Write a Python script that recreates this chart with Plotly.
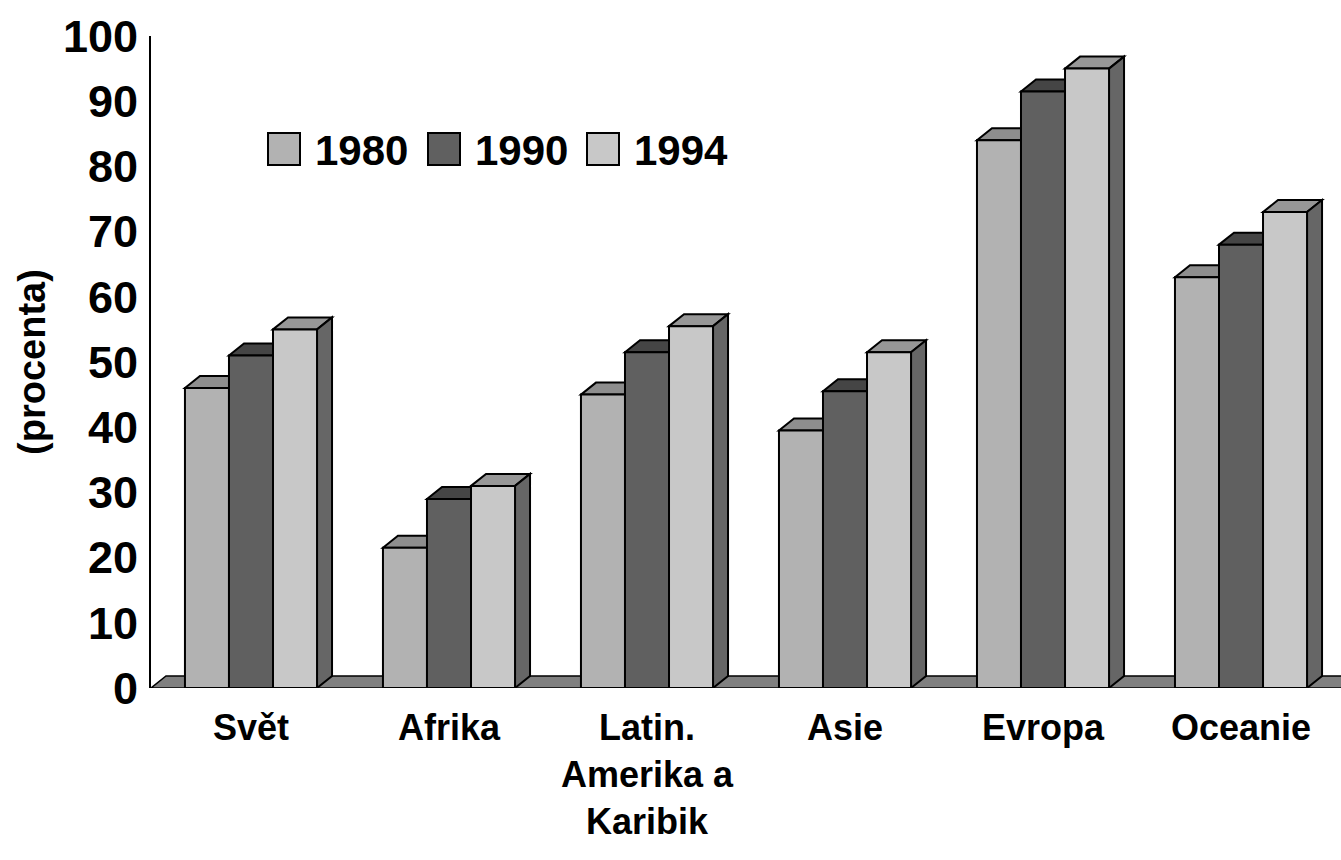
import plotly.graph_objects as go

# ---------------- data ----------------
categories = ["Svět", "Afrika", "Latin.<br>Amerika a<br>Karibik", "Asie", "Evropa", "Oceanie"]
series_names = ["1980", "1990", "1994"]
values_1980 = [46, 21.5, 45, 39.5, 84, 63]
values_1990 = [51, 29, 51.5, 45.5, 91.5, 68]
values_1994 = [55, 31, 55.5, 51.5, 95, 73]
y_ticks = [0, 10, 20, 30, 40, 50, 60, 70, 80, 90, 100]
y_title = "(procenta)"

series_values = [values_1980, values_1990, values_1994]

# ---------------- styles ----------------
front_colors = ["#b2b2b2", "#606060", "#c8c8c8"]
top_colors = ["#8e8e8e", "#454545", "#979797"]
side_color = "#666666"
floor_color = "#808080"
FONT = "Liberation Sans, Arial, sans-serif"

W, H = 1341, 860
ML, MR, MT, MB = 151, 0, 36, 172
XMIN, XMAX = -0.505, 5.505
YMIN, YMAX = 0, 100
px_x = (W - ML - MR) / (XMAX - XMIN)
px_y = (H - MT - MB) / (YMAX - YMIN)
DX = 15 / px_x      # depth offset (3D look) in data units
DY = 12 / px_y
BARGAP = 0.333
NS = len(series_names)
BW = (1 - BARGAP) / NS

fig = go.Figure()
xs = list(range(len(categories)))
for i, (name, vals) in enumerate(zip(series_names, series_values)):
    fig.add_trace(go.Bar(
        x=xs, y=vals, name=name,
        marker=dict(color=front_colors[i], line=dict(color="black", width=2)),
        showlegend=False,
    ))

shapes = []
# floor
shapes.append(dict(
    type="path", xref="x", yref="y", layer="below",
    path=f"M {XMIN},{YMIN} L {XMAX},{YMIN} L {XMAX+DX},{YMIN+DY} L {XMIN+DX},{YMIN+DY} Z",
    fillcolor=floor_color, line=dict(color="black", width=1.5),
))
# top & side faces computed from data
for c in xs:
    for i, vals in enumerate(series_values):
        v = vals[c]
        xl = c + (-(NS - 1) / 2 + i) * BW - BW / 2
        xr = xl + BW
        shapes.append(dict(
            type="path", xref="x", yref="y", layer="below",
            path=f"M {xl},{v} L {xl+DX},{v+DY} L {xr+DX},{v+DY} L {xr},{v} Z",
            fillcolor=top_colors[i], line=dict(color="black", width=2),
        ))
        if i == NS - 1:
            shapes.append(dict(
                type="path", xref="x", yref="y", layer="below",
                path=f"M {xr},{YMIN} L {xr},{v} L {xr+DX},{v+DY} L {xr+DX},{YMIN+DY} Z",
                fillcolor=side_color, line=dict(color="black", width=2),
            ))

# legend (drawn manually for large keys)
def px2paper_x(px):
    return (px - ML) / (W - ML - MR)

def px2paper_y(py):
    return (H - MB - py) / (H - MT - MB)

legend_box_x = [268, 428, 587]
legend_box_w, legend_box_top, legend_box_bot = 32, 133, 165
annotations = []
for i, name in enumerate(series_names):
    x0 = legend_box_x[i]
    shapes.append(dict(
        type="rect", xref="paper", yref="paper", layer="above",
        x0=px2paper_x(x0), x1=px2paper_x(x0 + legend_box_w),
        y0=px2paper_y(legend_box_bot), y1=px2paper_y(legend_box_top),
        fillcolor=front_colors[i], line=dict(color="black", width=2),
    ))
    annotations.append(dict(
        xref="paper", yref="paper", x=px2paper_x(x0 + legend_box_w + 13),
        y=px2paper_y((legend_box_top + legend_box_bot) / 2 + 1),
        xanchor="left", yanchor="middle", showarrow=False, text=name,
        font=dict(family=FONT, size=42, color="black", weight=700),
    ))

fig.update_layout(
    width=W, height=H,
    margin=dict(l=ML, r=MR, t=MT, b=MB, pad=0),
    paper_bgcolor="white", plot_bgcolor="white",
    barmode="group", bargap=BARGAP, bargroupgap=0,
    shapes=shapes, annotations=annotations,
    xaxis=dict(
        range=[XMIN, XMAX], tickvals=xs, ticktext=categories,
        showgrid=False, zeroline=False, showline=False, ticks="",
        tickfont=dict(family=FONT, size=36, color="black", weight=700),
        ticklabelstandoff=15, automargin=False,
    ),
    yaxis=dict(
        range=[YMIN, YMAX], tickvals=y_ticks,
        showgrid=False, zeroline=False, showline=True,
        linecolor="black", linewidth=2, ticks="",
        tickfont=dict(family=FONT, size=45, color="black", weight=700),
        ticklabelstandoff=2, automargin=False,
        title=dict(text=y_title, standoff=6,
                   font=dict(family=FONT, size=38, color="black", weight=700)),
    ),
)

fig.write_html("out.html", config={"displayModeBar": False},
               post_script="document.body.style.margin='0';")
